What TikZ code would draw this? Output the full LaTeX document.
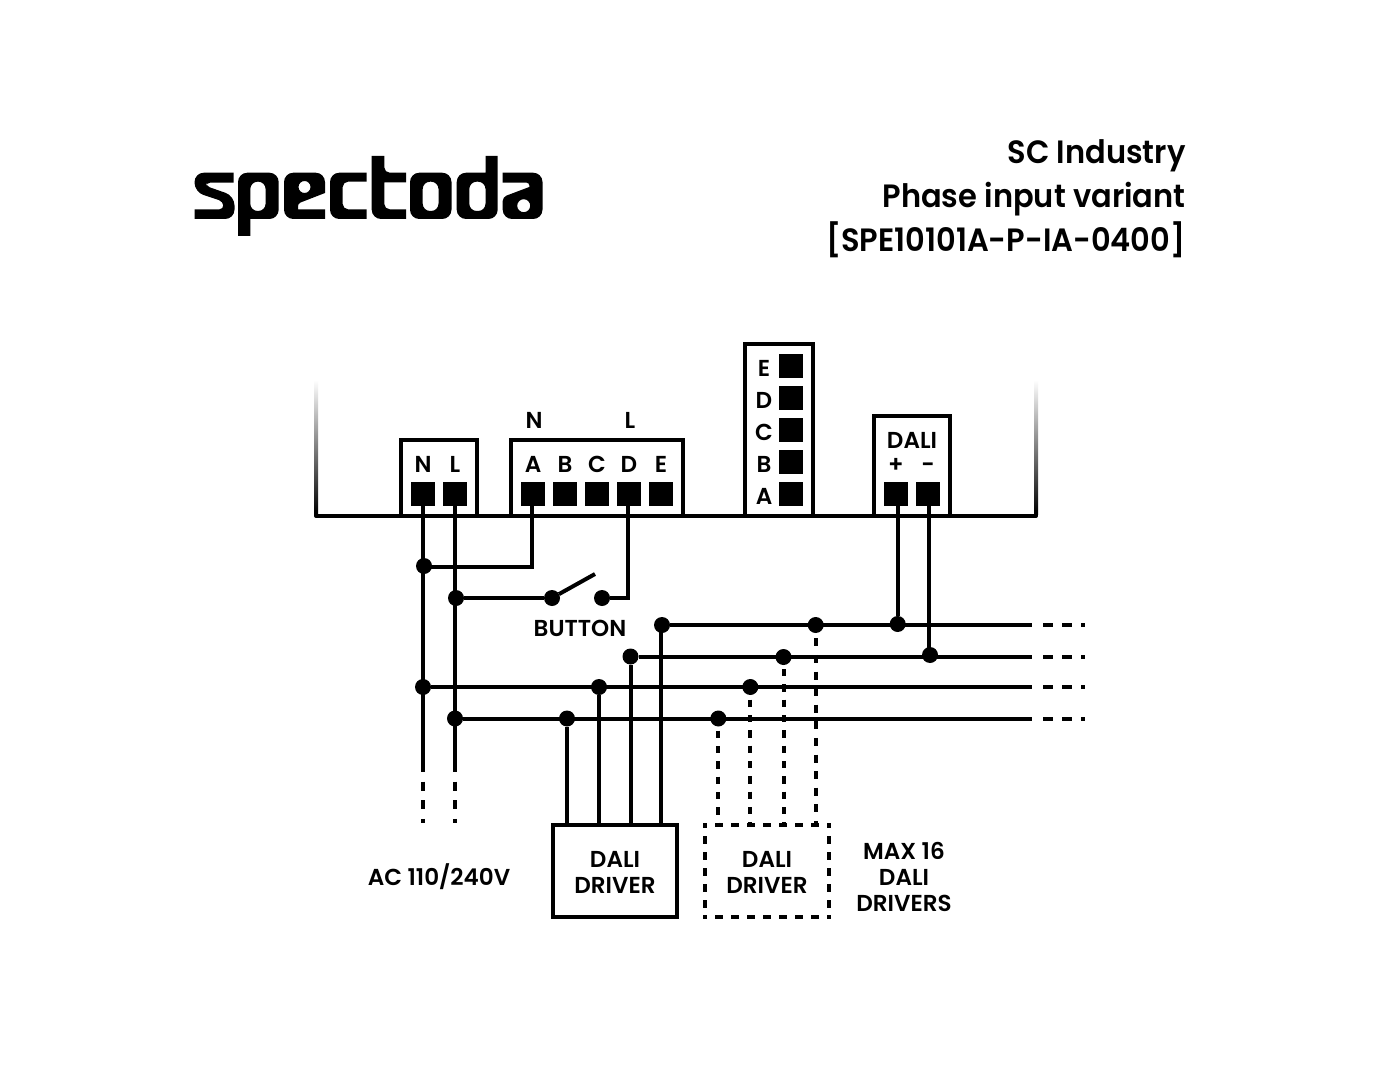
\documentclass[tikz,border=0pt]{standalone}
\usepackage{fontspec}
\setmainfont{Poppins SemiBold}
\newfontfamily\titlefont{Poppins SemiBold}[FakeStretch=0.945]
\def\px{0.75pt}
\tikzset{
  pic/.style={x=0.75pt,y=-0.75pt},
  wire/.style={line width=3pt,line cap=butt,line join=miter,draw=black},
  box/.style={draw=black,line width=3pt,inner sep=0pt,outer sep=0pt,rectangle},
  term/.style={fill=black,inner sep=0pt,outer sep=0pt,minimum size=18pt,rectangle},
  dotn/.style={circle,fill=black,inner sep=0pt,outer sep=0pt,minimum size=12pt},
  lab/.style={inner sep=0pt,outer sep=0pt,font=\fontsize{17.3}{19.5}\selectfont},
  labm/.style={lab,align=center},
  title/.style={inner sep=0pt,outer sep=0pt,align=right,font=\titlefont\fontsize{24.2}{33}\selectfont},
  tailh/.style={wire,dash pattern=on 7.5pt off 6.9pt},
  tailv/.style={wire,dash pattern=on 6.9pt off 7pt},
  drvA/.style={wire,dash pattern=on 5.5pt off 6pt},
  drvB/.style={wire,dash pattern=on 6pt off 6.45pt},
  dbox/.style={wire,dash pattern=on 6pt off 6pt},
  logo/.style={fill=black,even odd rule},
}
\begin{document}
\begin{tikzpicture}[pic]
\useasboundingbox (0,0) rectangle (1380,1080);
\fill[white] (0,0) rectangle (1380,1080);
% logo
\begin{scope}[logo]
% s
\fill (233.7,172.7) [rounded corners=7pt] -- (194.5,172.7) -- (194.5,192) [rounded corners=3pt] -- (223,201.5) -- (223.5,209.3) [sharp corners] -- (194.5,209.3) -- (194.5,219) [rounded corners=7pt] -- (234.5,219) -- (234.5,196) [rounded corners=3pt] -- (206,186) -- (206,182.7) [sharp corners] -- (233.7,182.7) -- cycle;
% p
\fill (238,236) [rounded corners=7pt] -- (238,172.7) -- (278.7,172.7) -- (278.7,219) [sharp corners] -- (250.3,219) -- (250.3,236) -- cycle
  (250.3,200) [rounded corners=5.5pt] -- (250.3,181.7) -- (265.6,181.7) -- (265.6,211) -- (250.3,211) [sharp corners] -- cycle;
% e
\fill (325,193) [rounded corners=7pt] -- (325,172.7) -- (284,172.7) -- (284,219) [sharp corners] -- (325,219) -- (325,209.3) -- (298,209.3) [rounded corners=2pt] -- (298,203.5) [sharp corners] -- cycle
  (310.5,187) arc[start angle=0,end angle=360,radius=6];
% c
\fill (366.7,172.7) [rounded corners=7pt] -- (330,172.7) -- (330,219) [sharp corners] -- (366.7,219) -- (366.7,209.3) [rounded corners=4pt] -- (342.7,209.3) -- (342.7,181.7) [sharp corners] -- (366.7,181.7) -- cycle;
% t
\fill (371.7,156) -- (384.3,156) [rounded corners=4pt] -- (384.3,172.7) [sharp corners] -- (406,172.7) -- (406,182.5) -- (384.3,182.5) [rounded corners=4pt] -- (384.3,209.3) [sharp corners] -- (406,209.3) -- (406,219) [rounded corners=7pt] -- (371.7,219) [sharp corners] -- cycle;
% o
\fill (430,172.7) [rounded corners=7pt] -- (410,172.7) -- (410,219) -- (451.5,219) -- (451.5,172.7) [sharp corners] -- cycle
  (430,181.7) [rounded corners=5.5pt] -- (422.7,181.7) -- (422.7,211) -- (438.5,211) -- (438.5,181.7) [sharp corners] -- cycle;
% d
\fill (497.7,156) [rounded corners=7pt] -- (497.7,219) -- (456.7,219) -- (456.7,172.7) [sharp corners] -- (485.5,172.7) -- (485.5,156) -- cycle
  (477,181.7) [rounded corners=5.5pt] -- (469.3,181.7) -- (469.3,211) -- (485.5,211) -- (485.5,181.7) [sharp corners] -- cycle;
% a
\fill (502.7,172.7) [rounded corners=7pt] -- (542.5,172.7) -- (542.5,219) -- (502.7,219) [rounded corners=3pt] -- (502.7,197) [sharp corners] -- (529.3,187) [rounded corners=2pt] -- (529.3,182.7) [sharp corners] -- (502.7,182.7) -- cycle
  (530.2,205.7) arc[start angle=0,end angle=360,radius=6.5];
\end{scope}
% titles
\node[title,anchor=north east] (ttl) at (1185.5,140) {SC Industry\\Phase input variant\\{[}SPE10101A-P-IA-0400{]}};
% fading sides
\shade[top color=white,bottom color=black] (314,380) rectangle (318,514);
\shade[top color=white,bottom color=black] (1034,380) rectangle (1038,514);
\coordinate (bl) at (316,516);
\coordinate (br) at (1036,516);
\draw[wire,line join=round] (316,510) -- (bl) -- (br) -- (1036,510);
% modules
\node[box,minimum width=76*\px,minimum height=76*\px] (mNL) at (438.5,478) {};
\node[box,minimum width=172.5*\px,minimum height=76*\px] (mIn) at (596.75,478) {};
\node[box,minimum width=68*\px,minimum height=172*\px] (mOut) at (778.5,430) {};
\node[box,minimum width=76.5*\px,minimum height=100*\px] (mDali) at (911.75,466) {};
% terminals
\foreach \n/\x in {tN/423,tL/455,tA/533,tB/565,tC/597,tD/629,tE/661,tP/896,tM/928}
  \node[term] (\n) at (\x,494) {};
\foreach \n/\y in {oE/366,oD/398,oC/430,oB/462,oA/494}
  \node[term] (\n) at (791,\y) {};
% terminal labels
\foreach \n/\t/\x in {lN/N/423,lL/L/455,lA/A/533,lB/B/565,lC/C/597,lD/D/629,lE/E/661}
  \node[lab] (\n) at (\x,464) {\t};
\node[lab] (topN) at (534,420) {N};
\node[lab] (topL) at (630,420) {L};
\foreach \n/\t/\y in {pE/E/368,pD/D/400,pC/C/432,pB/B/464,pA/A/496}
  \node[lab] (\n) at (764,\y) {\t};
\node[lab] (lDali) at (912,440) {DALI};
\node[lab] (lPlus) at (896,465.5) {+};
\node[lab] (lMinus) at (928,468) {-};
% drivers
\node[box,minimum width=124*\px,minimum height=92*\px] (drv) at (614.7,871) {};
\coordinate (dbNW) at (705,823); \coordinate (dbNE) at (829,823);
\coordinate (dbSW) at (705,919.3); \coordinate (dbSE) at (829,919.3);
\coordinate (dbT0) at (703,825.3); \coordinate (dbT1) at (831,825.3);
\coordinate (dbB0) at (703,917.3); \coordinate (dbB1) at (831,917.3);
\draw[dbox,dash phase=3pt] (dbT0) -- (dbT1);
\draw[dbox,dash phase=3pt] (dbB0) -- (dbB1);
\draw[dbox,dash phase=2.25pt] (dbNW) -- (dbSW);
\draw[dbox,dash phase=2.25pt] (dbNE) -- (dbSE);
\node[labm] (ld1) at (615,872) {DALI\\DRIVER};
\node[labm] (ld2) at (767,872) {DALI\\DRIVER};
\node[labm] (lMax) at (904,877) {MAX 16\\DALI\\DRIVERS};
\node[lab] (lAC) at (439,877) {AC 110/240V};
\node[lab] (lBtn) at (580,628) {BUTTON};
% dots
\node[dotn] (jN) at (424,566) {};
\node[dotn] (jL) at (456,598) {};
\node[dotn] (sL) at (552,598) {};
\node[dotn] (sR) at (602,598) {};
\node[dotn] (a1) at (662,625) {};
\node[dotn] (a2) at (815.7,625) {};
\node[dotn] (a3) at (897.7,624) {};
\node[dotn] (b1) at (630.5,656.5) {};
\node[dotn] (b2) at (783.5,657) {};
\node[dotn] (b3) at (930,655) {};
\node[dotn] (c0) at (423,687) {};
\node[dotn] (c1) at (599,687) {};
\node[dotn] (c2) at (750.3,687) {};
\node[dotn] (e0) at (455,718.5) {};
\node[dotn] (e1) at (567,718.5) {};
\node[dotn] (e2) at (718.3,718.5) {};
% free ends
\coordinate (nEnd) at (423,772); \coordinate (nTa) at (423,781.7); \coordinate (nTb) at (423,823);
\coordinate (lEnd) at (455,772); \coordinate (lTa) at (455,781.7); \coordinate (lTb) at (455,823);
\coordinate (armEnd) at (595,574);
\foreach \i/\y in {1/625,2/656.5,3/687,4/718.5}{
  \coordinate (h\i a) at (1032,\y);
  \coordinate (h\i b) at (1043,\y);
  \coordinate (h\i c) at (1085,\y);
}
% mains
\draw[wire] (tN.south) -- (nEnd);
\draw[wire] (tL.south) -- (lEnd);
\draw[tailv] (nTa) -- (nTb);
\draw[tailv] (lTa) -- (lTb);
% input wiring
\coordinate (aCorner) at (532,566.7);
\draw[wire] ([xshift=-.75pt]tA.south) -- (aCorner) -- (jN.center |- aCorner);
\coordinate (dCorner) at (628,598);
\draw[wire] ([xshift=-.75pt]tD.south) -- (dCorner) -- (sR);
\draw[wire] (jL) -- (sL);
\draw[line width=3pt] (sL) -- (armEnd);
% dali bus
\draw[wire] (a1) -- (h1a);
\draw[wire] (b1) -- (h2a);
\draw[wire] (c0) -- (h3a);
\draw[wire] (e0) -- (h4a);
\foreach \i in {1,2,3,4} \draw[tailh] (h\i b) -- (h\i c);
\draw[wire] (tP.south -| a3) -- (a3);
\coordinate (mTop) at (928.7,506); \coordinate (mBot) at (928.7,655);
\draw[wire] (mTop) -- (mBot);
% solid driver
\draw[wire] (e1) -- (e1 |- drv.north);
\draw[wire] (c1) -- (c1 |- drv.north);
\draw[wire] (b1) -- (b1 |- drv.north);
\coordinate (a1Top) at (661,625); \coordinate (a1Bot) at (661,825);
\draw[wire] (a1Top) -- (a1Bot);
% dashed driver
\coordinate (e2a) at (718.3,730.7); \coordinate (e2b) at (718.3,826);
\coordinate (c2a) at (750.3,699.7); \coordinate (c2b) at (750.3,826);
\coordinate (b2a) at (783.7,669); \coordinate (b2b) at (783.7,826);
\coordinate (a2a) at (815.7,638.3); \coordinate (a2b) at (815.7,826);
\draw[drvA] (e2a) -- (e2b);
\draw[drvA] (c2a) -- (c2b);
\draw[drvA] (b2a) -- (b2b);
\draw[drvB] (a2a) -- (a2b);
\end{tikzpicture}
\end{document}
